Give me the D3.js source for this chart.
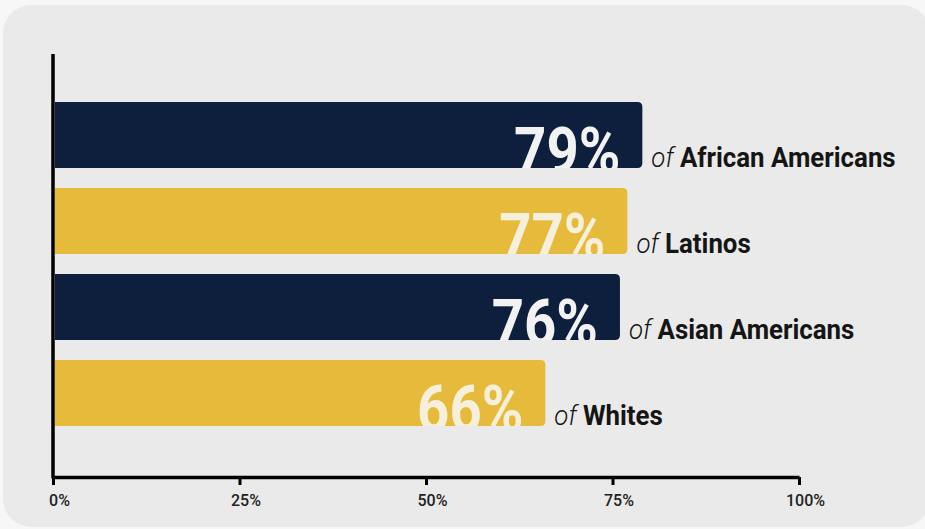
<!DOCTYPE html>
<html>
<head>
<meta charset="utf-8">
<script src="https://cdn.jsdelivr.net/npm/d3@7"></script>
<style>
  html, body { margin: 0; padding: 0; background: #f7f7f7; }
  svg { display: block; }
</style>
</head>
<body>
<script>
const categories = ["African Americans", "Latinos", "Asian Americans", "Whites"];
const values = [79, 77, 76, 66];
const barColors = ["#0d1f3c", "#e6bb3b"];
const tickValues = [0, 25, 50, 75, 100];
const tickLabels = ["0%", "25%", "50%", "75%", "100%"];

const W = 925, H = 529;
const svg = d3.select("body").append("svg").attr("width", W).attr("height", H);

svg.append("rect").attr("x", 3).attr("y", 5).attr("width", 927).attr("height", 522)
  .attr("rx", 28).attr("fill", "#eaeaea");

const x = d3.scaleLinear().domain([0, 100]).range([53, 799]);
const y = d3.scaleBand().domain(categories).range([92, 436]).paddingInner(20 / 86).paddingOuter(10 / 86);

const font = "Roboto, 'DejaVu Sans Condensed', sans-serif";
const defs = svg.append("defs");

const rows = categories.map((c, i) => ({ c, v: values[i], i }));

rows.forEach(d => {
  const x0 = x(0) + 2, x1 = x(d.v), y0 = y(d.c), h = y.bandwidth(), r = 5;
  const path = `M${x0},${y0} H${x1 - r} Q${x1},${y0} ${x1},${y0 + r} V${y0 + h - r} Q${x1},${y0 + h} ${x1 - r},${y0 + h} H${x0} Z`;
  defs.append("clipPath").attr("id", "clip" + d.i).append("path").attr("d", path);
  svg.append("path").attr("d", path).attr("fill", barColors[d.i % 2]);
  svg.append("g").attr("clip-path", `url(#clip${d.i})`)
    .append("text")
    .attr("transform", `translate(${x1 - 22},${y0 + h + 5}) scale(0.88,1)`)
    .attr("text-anchor", "end")
    .attr("font-family", font).attr("font-weight", "bold").attr("font-size", 64)
    .attr("fill", d.i % 2 ? "#f6efdc" : "#f2f2f2")
    .text(d.v + "%");
  const t = svg.append("text")
    .attr("transform", `translate(${x1 + 9},${y0 + h - 1}) scale(0.94,1)`)
    .attr("font-family", font).attr("font-size", 27.5).attr("fill", "#151515");
  t.append("tspan").attr("font-style", "italic").attr("font-weight", 300).text("of ");
  t.append("tspan").attr("font-weight", "bold").text(d.c);
});

// axes
const xAxis = d3.axisBottom(x).tickValues(tickValues).tickFormat((d, i) => tickLabels[i]).tickSize(8).tickSizeOuter(0);
const gx = svg.append("g").attr("transform", "translate(0,477)").call(xAxis);
gx.select(".domain").attr("stroke", "#000").attr("stroke-width", 3.5);
gx.selectAll(".tick line").attr("stroke", "#000").attr("stroke-width", 3);
gx.selectAll(".tick text").attr("font-family", font).attr("font-size", 16).attr("fill", "#222")
  .attr("font-weight", 500).attr("dx", 6).attr("y", 18);

svg.append("line").attr("x1", 53).attr("x2", 53).attr("y1", 54).attr("y2", 478.5)
  .attr("stroke", "#000").attr("stroke-width", 3.5);
</script>
</body>
</html>
